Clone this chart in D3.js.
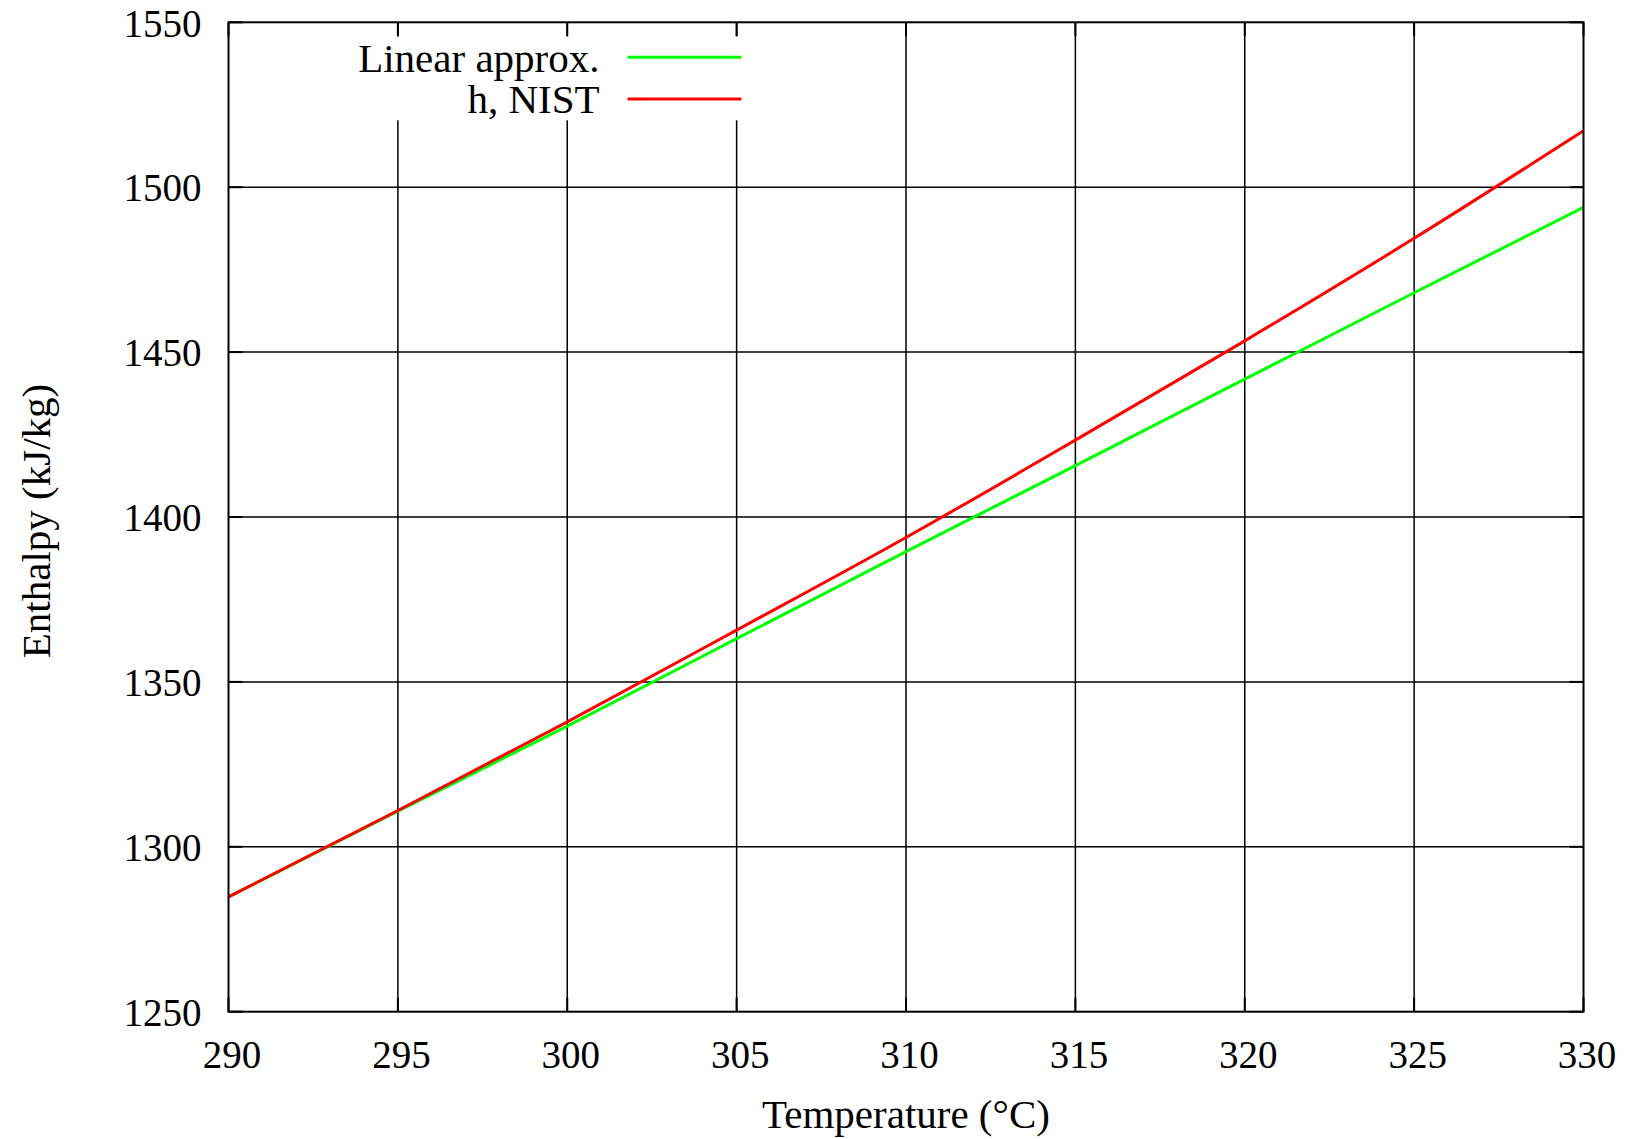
<!DOCTYPE html>
<html>
<head>
    <title>Enthalpy vs Temperature</title>
    <script src="https://d3js.org/d3.v7.min.js"></script>
    <style>
        body { margin: 0; background: #fff; }
        svg text {
            font-family: "Liberation Serif", "DejaVu Serif", serif;
            font-size: 41px;
            fill: #000;
        }
    </style>
</head>
<body>
    <svg width="1632" height="1139"></svg>
    <script>
        // data
        var temps = [290, 295, 300, 305, 310, 315, 320, 325, 330];
        var hNist = [1284.8, 1311.0, 1337.9, 1365.7, 1393.8, 1423.3, 1453.4, 1484.5, 1517.1];
        var hLinear = [1284.8, 1310.8, 1336.6, 1363.1, 1389.5, 1415.6, 1441.8, 1468.0, 1493.9];
        var xTicks = [290, 295, 300, 305, 310, 315, 320, 325, 330];
        var yTicks = [1250, 1300, 1350, 1400, 1450, 1500, 1550];
        var seriesNames = ["Linear approx.", "h, NIST"];
        var seriesColors = ["#00ff00", "#ff0000"];

        var svg = d3.select("svg"),
            margin = {top: 22.3, right: 48.5, bottom: 127.3, left: 228.5},
            width = +svg.attr("width") - margin.left - margin.right,
            height = +svg.attr("height") - margin.top - margin.bottom;

        var x = d3.scaleLinear().domain([290, 330]).range([0, width]);
        var y = d3.scaleLinear().domain([1250, 1550]).range([height, 0]);

        var g = svg.append("g").attr("transform", "translate(" + margin.left + "," + margin.top + ")");

        // grid
        g.append("g").selectAll("line")
            .data(xTicks.slice(1, -1))
            .enter().append("line")
            .attr("x1", d => x(d)).attr("x2", d => x(d))
            .attr("y1", 0).attr("y2", height)
            .attr("stroke", "#000").attr("stroke-width", 1.5);
        g.append("g").selectAll("line")
            .data(yTicks.slice(1, -1))
            .enter().append("line")
            .attr("x1", 0).attr("x2", width)
            .attr("y1", d => y(d)).attr("y2", d => y(d))
            .attr("stroke", "#000").attr("stroke-width", 1.5);

        // legend box hides the grid behind it
        g.append("rect")
            .attr("x", 112).attr("y", 14)
            .attr("width", 412).attr("height", 84)
            .attr("fill", "#fff");

        // tics on all four sides
        var tl = 14;
        var tics = g.append("g").attr("stroke", "#000").attr("stroke-width", 2);
        xTicks.forEach(function(t) {
            tics.append("line").attr("x1", x(t)).attr("x2", x(t)).attr("y1", height).attr("y2", height - tl);
            tics.append("line").attr("x1", x(t)).attr("x2", x(t)).attr("y1", 0).attr("y2", tl);
        });
        yTicks.forEach(function(t) {
            tics.append("line").attr("x1", 0).attr("x2", tl).attr("y1", y(t)).attr("y2", y(t));
            tics.append("line").attr("x1", width).attr("x2", width - tl).attr("y1", y(t)).attr("y2", y(t));
        });

        // tick labels via d3 axes
        var xAxis = g.append("g")
            .attr("transform", "translate(0," + height + ")")
            .call(d3.axisBottom(x).tickValues(xTicks).tickFormat(d3.format("d")).tickSize(0).tickPadding(0));
        xAxis.select(".domain").remove();
        xAxis.selectAll("text")
            .attr("dy", null)
            .attr("y", 56.5)
            .attr("x", 3)
            .style("font-family", "Liberation Serif")
            .style("font-size", "39px");

        var yAxis = g.append("g")
            .call(d3.axisLeft(y).tickValues(yTicks).tickFormat(d3.format("d")).tickSize(0).tickPadding(0));
        yAxis.select(".domain").remove();
        yAxis.selectAll("text")
            .attr("dy", null)
            .attr("x", -27)
            .attr("y", 13.7)
            .style("font-family", "Liberation Serif")
            .style("font-size", "39px");

        // lines
        var pts = function(vals) { return temps.map((t, i) => [t, vals[i]]); };
        var line = d3.line()
            .x(d => x(d[0]))
            .y(d => y(d[1]))
            .curve(d3.curveMonotoneX);

        g.append("path")
            .datum(pts(hLinear))
            .attr("fill", "none")
            .attr("stroke", seriesColors[0])
            .attr("stroke-width", 3)
            .attr("d", line);

        g.append("path")
            .datum(pts(hNist))
            .attr("fill", "none")
            .attr("stroke", seriesColors[1])
            .attr("stroke-width", 3)
            .attr("d", line);

        // border
        g.append("rect")
            .attr("width", width).attr("height", height)
            .attr("fill", "none")
            .attr("stroke", "#000")
            .attr("stroke-width", 2);

        // legend
        var legend = g.append("g")
            .selectAll("g")
            .data(seriesNames)
            .enter().append("g")
            .attr("transform", (d, i) => "translate(0," + (35 + i * 41.7) + ")");

        legend.append("text")
            .attr("x", 371)
            .attr("y", 14.2)
            .attr("text-anchor", "end")
            .text(d => d);

        legend.append("line")
            .attr("x1", 399).attr("x2", 513)
            .attr("y1", 0).attr("y2", 0)
            .attr("stroke", (d, i) => seriesColors[i])
            .attr("stroke-width", 3);

        // axis titles
        svg.append("text")
            .attr("x", margin.left + width / 2)
            .attr("y", 1128)
            .attr("text-anchor", "middle")
            .text("Temperature (°C)");

        svg.append("text")
            .attr("transform", "translate(50," + (margin.top + height / 2 + 4) + ") rotate(-90)")
            .attr("text-anchor", "middle")
            .text("Enthalpy (kJ/kg)");
    </script>
</body>
</html>
